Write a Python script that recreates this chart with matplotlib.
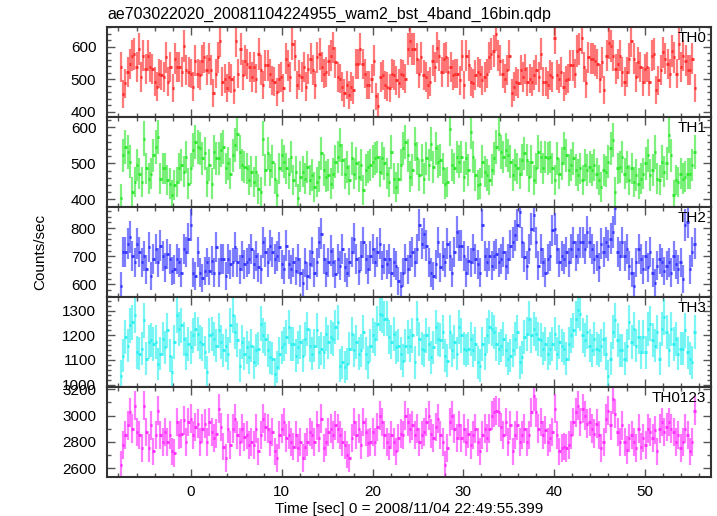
import numpy as np
import matplotlib
matplotlib.use("Agg")
import matplotlib.pyplot as plt
from matplotlib.ticker import MultipleLocator, AutoMinorLocator

plt.rcParams['font.family'] = ['Liberation Sans', 'DejaVu Sans']

# light curve, 16-bin (0.25 s) rates in counts/sec
t_start = -7.75
t_end = 55.5
bin_dt = 0.25

th0 = [537, 455, 487, 522, 547, 572, 577, 537, 592,
       507, 572, 532, 572, 537, 532, 492, 477, 517,
       512, 507, 567, 492, 537, 472, 562, 537, 537, 522,
       602, 527, 522, 517, 477, 557, 517, 512, 557, 567,
       527, 562, 527, 457, 517, 567, 617, 492, 502,
       472, 507, 502, 467, 617, 517, 592, 512, 557,
       547, 537, 507, 537, 502, 577, 527, 482, 542, 542,
       517, 497, 492, 462, 502, 507, 472, 562, 542, 507,
       607, 572, 482, 512, 507, 537, 477, 532, 562,
       527, 482, 567, 577, 537, 517, 522, 557, 572, 597,
       552, 507, 502, 477, 457, 482, 452, 477, 467,
       547, 547, 592, 547, 517, 482, 482, 502, 557, 447,
       417, 507, 512, 482, 477, 472, 517, 512, 497,
       487, 517, 512, 502, 592, 617, 592,
       592, 562, 517, 567, 512, 507, 482, 492, 557, 537,
       597, 572, 522, 562, 567, 522, 537, 512, 517, 517,
       497, 572, 482, 572, 542, 492, 487, 512, 522, 517,
       497, 507, 517, 567, 577, 587, 637, 572, 557, 517,
       502, 527, 572, 457, 477, 492, 487, 527, 507, 532,
       492, 502, 492, 512, 527, 507, 577, 492, 492, 482,
       512, 507, 627, 512, 502, 522, 477, 497, 502, 542,
       542, 517, 587, 592, 627, 537, 487, 567, 562, 562,
       557, 547, 502, 552, 467, 572, 612, 602, 572, 532,
       547, 572, 522, 492, 522, 562, 617, 562, 507, 552,
       537, 492, 532, 537, 492, 572, 577, 467, 497, 527,
       582, 562, 547, 517, 587, 567, 517, 607, 537, 572,
       557, 527, 527, 562, 472]

th1 = [403, 523, 546, 532, 505, 421, 449, 495, 472, 449,
       569, 486, 458, 472, 523, 546, 574, 458, 486, 486,
       454, 444, 412, 440, 449, 486, 495, 477, 518, 444,
       486, 537, 560, 546, 542, 514, 528, 449, 495, 444,
       532, 514, 514, 537, 546, 486, 500, 472, 523, 551,
       583, 532, 495, 491, 486, 454, 477, 449, 477, 430,
       421, 569, 481, 528, 481, 505, 458, 412, 486, 523,
       505, 486, 472, 518, 454, 477, 403, 463, 477, 458,
       491, 454, 468, 435, 449, 463, 528, 481, 463, 468,
       444, 472, 505, 518, 551, 509, 472, 491, 454, 514,
       472, 500, 463, 495, 426, 481, 491, 495, 505, 514,
       518, 477, 514, 500, 472, 449, 532, 458, 435, 458,
       495, 542, 560, 523, 463, 481, 555, 514, 468, 509,
       458, 514, 495, 555, 491, 542, 505, 509, 486, 444,
       449, 597, 495, 486, 518, 505, 518, 463, 514, 481,
       588, 518, 468, 440, 444, 505, 477, 468, 454, 481,
       514, 546, 583, 532, 518, 537, 523, 505, 468, 495,
       486, 472, 509, 528, 509, 463, 505, 454, 486, 532,
       518, 486, 518, 514, 518, 486, 454, 514, 472, 500,
       542, 523, 481, 495, 514, 481, 468, 486, 454, 495,
       481, 491, 481, 495, 472, 454, 435, 481, 477, 505,
       542, 565, 421, 486, 491, 518, 472, 491, 454, 486,
       449, 468, 444, 458, 472, 500, 523, 468, 481, 532,
       458, 454, 505, 477, 500, 578, 523, 412, 454, 449,
       472, 458, 463, 472, 472, 495, 532]

th2 = [594, 714, 714, 744, 768, 702, 678, 744, 714, 678,
       702, 654, 732, 630, 690, 726, 678, 738, 702, 660,
       708, 690, 648, 654, 690, 678, 642, 726, 714, 762,
       810, 642, 630, 714, 642, 624, 648, 678, 648, 684,
       642, 732, 642, 690, 690, 630, 690, 672, 678, 732,
       678, 654, 702, 672, 678, 690, 726, 672, 702, 660,
       654, 750, 714, 678, 738, 714, 690, 702, 732, 672,
       654, 738, 672, 654, 678, 648, 690, 642, 606, 678,
       630, 672, 714, 642, 678, 750, 780, 690, 642, 678,
       720, 678, 636, 690, 666, 726, 660, 642, 678, 714,
       762, 690, 648, 702, 750, 690, 654, 702, 726, 678,
       714, 744, 666, 690, 672, 690, 642, 678, 666, 612,
       594, 642, 690, 654, 702, 714, 678, 726, 810, 744,
       780, 738, 678, 642, 630, 672, 750, 660, 702, 678,
       744, 702, 642, 714, 786, 738, 738, 702, 642, 684,
       678, 726, 690, 672, 642, 810, 702, 678, 702, 666,
       702, 708, 678, 690, 714, 666, 690, 738, 750, 774,
       810, 858, 750, 696, 666, 726, 798, 846, 750, 666,
       726, 678, 642, 690, 702, 792, 798, 726, 678, 702,
       690, 714, 678, 726, 750, 702, 726, 750, 750, 726,
       786, 750, 726, 690, 702, 660, 744, 714, 750, 738,
       762, 786, 870, 714, 702, 750, 702, 726, 666, 642,
       594, 678, 726, 690, 654, 702, 660, 714, 642, 606,
       666, 690, 678, 648, 666, 678, 642, 702, 672, 654,
       678, 618, 810, 822, 654, 714, 744]

th3 = [1036, 1117, 1192, 1158, 1240, 1253, 1281, 1131, 1124, 1145,
       1260, 1104, 1172, 1179, 1165, 1172, 1083, 1124, 1185, 1151,
       1220, 1117, 1049, 1172, 1281, 1226, 1240, 1185, 1124, 1165,
       1151, 1199, 1226, 1206, 1172, 1165, 1131, 1049, 1199, 1206,
       1185, 1158, 1220, 1172, 1138, 1158, 1124, 1240, 1281, 1213,
       1179, 1077, 1172, 1124, 1151, 1111, 1158, 1090, 1138, 1145,
       1247, 1199, 1185, 1138, 1111, 1104, 1043, 1070, 1124, 1151,
       1165, 1192, 1233, 1165, 1165, 1117, 1151, 1172, 1117, 1185,
       1226, 1158, 1124, 1158, 1220, 1131, 1145, 1131, 1206, 1172,
       1192, 1185, 1233, 1253, 1077, 1090, 1070, 1083, 1145, 1206,
       1138, 1172, 1124, 1138, 1213, 1124, 1090, 1158, 1199, 1185,
       1247, 1288, 1281, 1267, 1267, 1192, 1172, 1206, 1151, 1158,
       1124, 1097, 1158, 1192, 1158, 1199, 1090, 1267, 1185, 1145,
       1138, 1199, 1165, 1111, 1151, 1233, 1185, 1179, 1213, 1117,
       1097, 1213, 1138, 1172, 1124, 1233, 1199, 1145, 1138, 1145,
       1185, 1138, 1165, 1090, 1077, 1165, 1124, 1199, 1233, 1226,
       1213, 1165, 1145, 1158, 1185, 1138, 1104, 1117, 1138, 1185,
       1213, 1090, 1111, 1192, 1206, 1267, 1199, 1226, 1206, 1185,
       1179, 1145, 1165, 1124, 1145, 1165, 1206, 1124, 1172, 1158,
       1145, 1104, 1165, 1199, 1220, 1267, 1301, 1288, 1199, 1179,
       1213, 1158, 1138, 1185, 1145, 1138, 1158, 1185, 1124, 1036,
       1104, 1213, 1260, 1179, 1138, 1138, 1104, 1158, 1253, 1172,
       1226, 1158, 1192, 1131, 1192, 1131, 1226, 1247, 1179, 1158,
       1213, 1104, 1226, 1274, 1213, 1138, 1226, 1165, 1185, 1124,
       1145, 1145, 1220, 1131, 1104, 1090, 1213]

th0123 = [2627, 2776, 2851, 2926, 3025, 2901, 3075, 2876, 2851, 2752,
          3075, 2876, 2752, 2926, 2727, 2851, 3038, 2851, 2801, 2876,
          2801, 2851, 2727, 2714, 2951, 2851, 2863, 2963, 2801, 2951,
          2975, 2851, 2913, 2938, 2801, 2901, 2938, 2801, 2951, 2876,
          2826, 2863, 3050, 2913, 2764, 2677, 2901, 2776, 2901, 2975,
          2851, 2801, 2901, 2839, 2851, 2776, 2801, 2776, 2901, 2727,
          2851, 2975, 2913, 2901, 2801, 2876, 2727, 2677, 2851, 2901,
          2951, 2826, 2851, 2801, 2764, 2851, 2752, 2801, 2677, 2764,
          2801, 2876, 2851, 2801, 2926, 2826, 2975, 2752, 2801, 2876,
          2901, 2851, 2926, 2901, 2851, 2801, 2776, 2702, 2677, 2826,
          2951, 2851, 2901, 2776, 2951, 2876, 2789, 2801, 2876, 2801,
          2913, 3000, 2951, 2851, 2801, 2764, 2851, 2801, 2727, 2826,
          2863, 2851, 3000, 2951, 2901, 2926, 2851, 2901, 2801, 2851,
          2876, 2951, 3000, 2863, 2826, 2913, 2975, 2851, 2801, 2627,
          2752, 2951, 3000, 2901, 2826, 2926, 2826, 2901, 2801, 2863,
          2776, 2851, 2901, 2801, 2727, 2851, 2901, 2826, 2901, 3000,
          3025, 3038, 3025, 2913, 2851, 2951, 2801, 2926, 2727, 2851,
          2926, 2801, 2851, 2901, 2801, 2851, 3025, 3150, 3025, 2901,
          2951, 2851, 2888, 2801, 2826, 2876, 3050, 2851, 2727, 2752,
          2764, 2752, 2776, 2851, 2951, 3025, 3075, 2951, 3050, 3000,
          2938, 2951, 2901, 2863, 2938, 2851, 2752, 2801, 2975, 3038,
          2926, 3125, 3013, 2876, 2801, 2926, 2801, 2739, 2826, 2851,
          2801, 2752, 2901, 2764, 2826, 2776, 2901, 2876, 2826, 2888,
          2727, 2901, 2951, 2876, 2913, 2951, 2901, 2876, 2801, 2851,
          2752, 2801, 2901, 2851, 2727, 2801, 3038]

bands = ["TH0", "TH1", "TH2", "TH3", "TH0123"]
rates = [th0, th1, th2, th3, th0123]
colors = ["#ff2a2a", "#2ee82e", "#3434ff", "#2cf0f0", "#ff2aff"]
ylims = [(384, 660), (379, 629), (555, 875), (990, 1355), (2533, 3217)]
ymajor = [100, 100, 100, 100, 200]
yminor = [5, 5, 5, 5, 2]

fig, axes = plt.subplots(5, 1, sharex=True, figsize=(7.17, 5.16), dpi=100)
fig.subplots_adjust(left=0.1488, right=0.9916, top=0.9477, bottom=0.0756, hspace=0)

for ax, name, vals, col, lim, maj, mnr in zip(axes, bands, rates, colors, ylims, ymajor, yminor):
    v = np.array(vals, dtype=float)
    t = np.linspace(t_start, t_end, len(v))
    half = (t_end - t_start) / (len(v) - 1) / 2
    err = np.sqrt(v / bin_dt)  # poisson error of the rate
    ax.vlines(t, v - err, v + err, color=col, lw=1.6, alpha=0.62)
    ax.hlines(v, t - half, t + half, color=col, lw=2.0)
    ax.set_ylim(*lim)
    ax.yaxis.set_major_locator(MultipleLocator(maj))
    ax.yaxis.set_minor_locator(AutoMinorLocator(mnr))
    ax.text(0.992, 0.95, name, transform=ax.transAxes, ha="right", va="top", fontsize=11)
    for s in ax.spines.values():
        s.set_linewidth(1.5)
        s.set_color("#333333")
    ax.tick_params(which="both", direction="in", top=True, right=True, color="#555555",
                   labelsize=11, pad=7.5)
    ax.tick_params(which="major", length=6, width=1)
    ax.tick_params(which="minor", length=3, width=1)
    ax.tick_params(axis="x", pad=6)

axes[-1].set_xlim(-9.3, 57.3)
axes[-1].xaxis.set_major_locator(MultipleLocator(10))
axes[-1].xaxis.set_minor_locator(MultipleLocator(2))

fig.text(107 / 717, 1 - 14 / 516, "ae703022020_20081104224955_wam2_bst_4band_16bin.qdp",
         ha="left", va="center", fontsize=11.5)
fig.text(0.57, 1 - 509 / 516, "Time [sec] 0 = 2008/11/04 22:49:55.399",
         ha="center", va="center", fontsize=11)
fig.text(40 / 717, 0.512, "Counts/sec", rotation=90, ha="center", va="center", fontsize=11)

fig.savefig("out.png", dpi=100)
